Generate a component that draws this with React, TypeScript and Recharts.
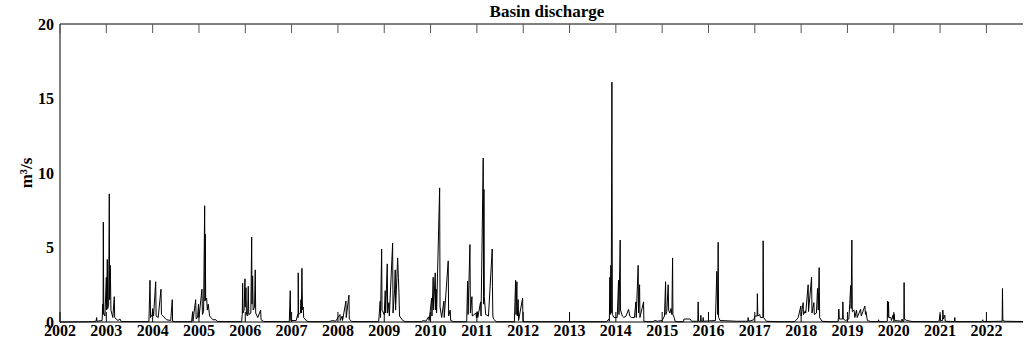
import { LineChart, Line, XAxis, YAxis, Label } from "recharts";

const FONT = '"Liberation Serif", "Times New Roman", serif';

const yearTicks = [
  2002, 2003, 2004, 2005, 2006, 2007, 2008, 2009, 2010, 2011, 2012,
  2013, 2014, 2015, 2016, 2017, 2018, 2019, 2020, 2021, 2022,
];
const flowTicks = [0, 5, 10, 15, 20];
const xDomain = [2002, 2022.79];

// [decimal year, discharge m3/s]
const s2003: [number, number][] = [
  [2002.0, 0.0], [2002.7, 0.02], [2002.78, 0.05], [2002.79, 0.3], [2002.8, 0.05],
  [2002.91, 0.1], [2002.922, 1.2], [2002.93, 0.5], [2002.935, 6.7], [2002.945, 0.6],
  [2002.97, 0.4], [2003.0, 3.0], [2003.008, 0.8], [2003.021, 4.2], [2003.03, 0.9],
  [2003.05, 1.2], [2003.064, 8.6], [2003.072, 1.5], [2003.086, 3.8], [2003.1, 0.8],
  [2003.14, 0.3], [2003.172, 1.7], [2003.18, 0.3], [2003.25, 0.1], [2003.295, 0.2],
  [2003.32, 0.03],
];
const s2004: [number, number][] = [
  [2003.92, 0.02], [2003.943, 2.8], [2003.955, 0.3], [2003.99, 0.5], [2004.001, 0.9],
  [2004.02, 0.4], [2004.066, 2.7], [2004.075, 0.4], [2004.12, 0.3], [2004.18, 2.2],
  [2004.19, 0.5], [2004.3, 0.15], [2004.39, 0.1], [2004.424, 1.5], [2004.43, 0.05],
  [2004.5, 0.02],
];
const s2005: [number, number][] = [
  [2004.84, 0.02], [2004.864, 0.7], [2004.87, 0.05], [2004.929, 1.5], [2004.94, 0.2],
  [2004.97, 0.3], [2004.99, 1.2], [2005.0, 0.3], [2005.065, 2.2], [2005.075, 0.5],
  [2005.1, 0.7], [2005.123, 7.8], [2005.13, 1.4], [2005.136, 5.9], [2005.145, 1.5],
  [2005.166, 1.6], [2005.18, 0.8], [2005.2, 1.2], [2005.23, 0.4], [2005.3, 0.15],
  [2005.367, 0.15], [2005.4, 0.03],
];
const s2006: [number, number][] = [
  [2005.92, 0.02], [2005.935, 0.5], [2005.943, 2.6], [2005.95, 0.6], [2005.975, 0.8],
  [2005.993, 2.9], [2006.0, 1.0], [2006.015, 2.3], [2006.025, 0.5], [2006.05, 0.4],
  [2006.064, 2.4], [2006.075, 0.5], [2006.12, 0.6], [2006.138, 5.7], [2006.145, 1.2],
  [2006.159, 3.1], [2006.17, 0.8], [2006.2, 1.0], [2006.215, 3.5], [2006.225, 0.6],
  [2006.27, 0.3], [2006.332, 0.8], [2006.34, 0.15], [2006.4, 0.03],
];
const s2007: [number, number][] = [
  [2006.95, 0.02], [2006.971, 2.1], [2006.98, 0.1], [2007.1, 0.1], [2007.131, 0.5],
  [2007.14, 0.3], [2007.143, 3.3], [2007.15, 0.5], [2007.19, 0.6], [2007.202, 1.5],
  [2007.21, 0.6], [2007.223, 3.6], [2007.228, 2.3], [2007.235, 0.8], [2007.251, 1.0],
  [2007.26, 0.3], [2007.33, 0.05], [2007.4, 0.02],
];
const s2008: [number, number][] = [
  [2007.8, 0.02], [2007.886, 0.1], [2007.95, 0.05], [2008.044, 0.5], [2008.05, 0.1],
  [2008.093, 0.4], [2008.1, 0.1], [2008.173, 1.4], [2008.18, 0.3], [2008.238, 1.8],
  [2008.245, 0.2], [2008.3, 0.03],
];
const s2009: [number, number][] = [
  [2008.88, 0.02], [2008.913, 1.4], [2008.92, 0.3], [2008.944, 4.9], [2008.952, 0.8],
  [2009.0, 0.5], [2009.021, 2.1], [2009.03, 0.6], [2009.065, 3.9], [2009.073, 0.6],
  [2009.101, 1.3], [2009.11, 0.4], [2009.181, 5.3], [2009.19, 0.6], [2009.224, 2.2],
  [2009.237, 3.5], [2009.245, 0.8], [2009.289, 4.3], [2009.305, 3.0], [2009.317, 2.0],
  [2009.33, 0.4], [2009.4, 0.1], [2009.45, 0.02],
];
const s2010: [number, number][] = [
  [2009.8, 0.02], [2009.842, 0.1], [2009.9, 0.05], [2009.958, 0.35], [2009.97, 0.1],
  [2010.023, 1.6], [2010.03, 0.4], [2010.057, 3.0], [2010.065, 0.8], [2010.101, 3.3],
  [2010.11, 0.8], [2010.122, 2.2], [2010.13, 0.6], [2010.196, 9.0], [2010.205, 1.0],
  [2010.24, 0.3], [2010.288, 1.4], [2010.295, 0.3], [2010.381, 4.1], [2010.39, 0.4],
  [2010.424, 0.8], [2010.435, 0.1], [2010.5, 0.02],
];
const s2011: [number, number][] = [
  [2010.78, 0.02], [2010.8, 2.75], [2010.81, 0.5], [2010.85, 5.2], [2010.86, 0.6],
  [2010.893, 1.7], [2010.9, 0.4], [2010.979, 0.6], [2010.99, 0.3], [2011.007, 0.7],
  [2011.02, 0.3], [2011.08, 1.35], [2011.09, 0.4], [2011.137, 11.0], [2011.145, 1.2],
  [2011.152, 8.9], [2011.16, 1.7], [2011.19, 0.5], [2011.25, 0.4], [2011.331, 4.9],
  [2011.336, 2.4], [2011.345, 0.4], [2011.36, 0.2], [2011.42, 0.02],
];
const s2012: [number, number][] = [
  [2011.81, 0.02], [2011.836, 2.8], [2011.845, 0.5], [2011.864, 2.7], [2011.872, 0.4],
  [2011.892, 1.5], [2011.9, 0.1], [2011.987, 1.6], [2011.995, 0.05], [2012.05, 0.02],
];
const s2014: [number, number][] = [
  [2013.8, 0.02], [2013.85, 0.2], [2013.86, 0.05], [2013.871, 3.0], [2013.88, 0.5],
  [2013.893, 3.8], [2013.9, 0.6], [2013.915, 16.1], [2013.925, 0.5], [2013.96, 0.3],
  [2014.03, 0.3], [2014.059, 2.8], [2014.068, 0.5], [2014.094, 5.5], [2014.1, 0.8],
  [2014.14, 0.4], [2014.174, 0.3], [2014.22, 0.4], [2014.275, 0.85], [2014.3, 0.4],
  [2014.34, 0.3], [2014.4, 0.3], [2014.433, 1.35], [2014.44, 0.3], [2014.482, 3.8],
  [2014.49, 0.6], [2014.513, 2.5], [2014.52, 0.3], [2014.599, 1.35], [2014.605, 0.05],
  [2014.7, 0.02],
];
const s2015: [number, number][] = [
  [2014.8, 0.02], [2014.843, 0.1], [2014.9, 0.05], [2015.0, 0.1], [2015.05, 0.4],
  [2015.074, 2.7], [2015.08, 0.5], [2015.1, 0.7], [2015.13, 2.5], [2015.14, 0.8],
  [2015.166, 0.6], [2015.19, 0.9], [2015.21, 0.5], [2015.225, 4.3], [2015.232, 0.5],
  [2015.259, 0.3], [2015.28, 0.05], [2015.35, 0.02],
];
const s2016: [number, number][] = [
  [2015.46, 0.02], [2015.47, 0.2], [2015.6, 0.2], [2015.64, 0.05], [2015.77, 0.05],
  [2015.777, 1.35], [2015.785, 0.05], [2015.83, 0.05], [2015.835, 0.45], [2015.842, 0.05],
  [2015.88, 0.05], [2015.885, 0.3], [2015.89, 0.05], [2016.15, 0.1], [2016.18, 3.4],
  [2016.2, 0.5], [2016.209, 5.35], [2016.218, 0.3], [2016.25, 0.1], [2016.6, 0.05],
];
const s2017: [number, number][] = [
  [2016.8, 0.05], [2016.85, 0.05], [2016.856, 0.3], [2016.87, 0.05], [2016.98, 0.15],
  [2017.0, 0.4], [2017.05, 0.4], [2017.055, 1.9], [2017.065, 0.4], [2017.109, 0.5],
  [2017.12, 0.3], [2017.175, 0.3], [2017.18, 5.45], [2017.19, 0.3], [2017.25, 0.05],
  [2017.5, 0.02],
];
const s2018: [number, number][] = [
  [2017.85, 0.02], [2017.886, 0.1], [2017.936, 0.3], [2017.994, 1.07], [2018.0, 0.4],
  [2018.044, 1.3], [2018.05, 0.5], [2018.09, 0.75], [2018.1, 0.6], [2018.152, 2.5],
  [2018.16, 0.7], [2018.225, 3.0], [2018.235, 0.6], [2018.275, 1.3], [2018.285, 0.5],
  [2018.33, 0.6], [2018.354, 2.25], [2018.37, 0.8], [2018.389, 3.65], [2018.4, 0.3],
  [2018.45, 0.05], [2018.6, 0.02],
];
const s2019: [number, number][] = [
  [2018.75, 0.02], [2018.8, 0.05], [2018.814, 0.87], [2018.825, 0.2], [2018.895, 0.2],
  [2018.901, 1.35], [2018.91, 0.2], [2018.96, 0.1], [2019.03, 0.2], [2019.05, 1.25],
  [2019.07, 2.45], [2019.08, 0.9], [2019.095, 5.5], [2019.105, 0.7], [2019.144, 0.8],
  [2019.16, 0.3], [2019.196, 0.8], [2019.21, 0.3], [2019.283, 0.85], [2019.3, 0.4],
  [2019.375, 1.07], [2019.39, 0.5], [2019.4, 0.7], [2019.43, 0.1], [2019.5, 0.03],
  [2019.665, 0.03], [2019.671, 0.15], [2019.68, 0.02],
];
const s2020: [number, number][] = [
  [2019.82, 0.02], [2019.86, 0.05], [2019.865, 1.4], [2019.875, 0.3], [2019.887, 1.35],
  [2019.895, 0.3], [2019.936, 0.3], [2019.95, 0.1], [2019.98, 0.45], [2019.99, 0.2],
  [2020.008, 0.55], [2020.02, 0.1], [2020.17, 0.05], [2020.18, 0.2], [2020.19, 0.05],
  [2020.218, 0.05], [2020.223, 2.65], [2020.23, 0.2], [2020.28, 0.1], [2020.4, 0.03],
];
const s2021: [number, number][] = [
  [2020.95, 0.02], [2020.98, 0.1], [2021.0, 0.5], [2021.01, 0.1], [2021.055, 0.1],
  [2021.059, 0.8], [2021.07, 0.2], [2021.102, 0.45], [2021.11, 0.05], [2021.31, 0.03],
  [2021.318, 0.3], [2021.325, 0.03],
];
const s2022: [number, number][] = [
  [2021.9, 0.02], [2021.922, 0.15], [2021.93, 0.03], [2022.34, 0.05], [2022.347, 2.25],
  [2022.355, 0.1], [2022.4, 0.05], [2022.79, 0.03],
];

const seasons = [
  s2003, s2004, s2005, s2006, s2007, s2008, s2009, s2010, s2011, s2012,
  s2014, s2015, s2016, s2017, s2018, s2019, s2020, s2021, s2022,
];
const data = seasons.flat().map(([t, q]) => ({ t, q }));

const BottomTick = (props: any) => {
  const { x, y, payload } = props;
  return (
    <g>
      <line x1={x} y1={y} x2={x} y2={y - 10} stroke="#000" strokeWidth={1} />
      <text x={x} y={y + 3} dy="0.71em" textAnchor="middle" fill="#000"
        fontFamily={FONT} fontWeight="bold" fontSize={16}>
        {payload.value}
      </text>
    </g>
  );
};

const TopTick = (props: any) => {
  const { x, y } = props;
  return <line x1={x} y1={y} x2={x} y2={y + 9} stroke="#555" strokeWidth={1} />;
};

export default function App() {
  return (
    <div style={{ position: "absolute", left: 0, top: 0, width: 1024, height: 352, background: "#fff" }}>
      <div style={{
        position: "absolute", top: 2, left: 547, transform: "translateX(-50%)",
        fontFamily: FONT, fontWeight: "bold", fontSize: 17, whiteSpace: "nowrap", color: "#000",
        lineHeight: "20px",
      }}>
        Basin discharge
      </div>
      <LineChart width={1024} height={352} data={data} margin={{ top: 23, right: 1, bottom: 0, left: 0 }}>
        <XAxis xAxisId="top" orientation="top" dataKey="t" type="number" domain={xDomain}
          allowDataOverflow ticks={yearTicks} interval={0} height={1} tickSize={0} tickMargin={0}
          tickLine={false} axisLine={{ stroke: "#000" }} tick={<TopTick />} />
        <XAxis xAxisId="bottom" dataKey="t" type="number" domain={xDomain}
          allowDataOverflow ticks={yearTicks} interval={0} height={30} tickSize={0} tickMargin={0}
          tickLine={false} axisLine={{ stroke: "#000" }} tick={<BottomTick />} />
        <YAxis type="number" domain={[0, 20]} ticks={flowTicks} width={60} tickSize={0}
          tickMargin={6} tickLine={false} axisLine={{ stroke: "#000" }} interval={0}
          tick={{ fill: "#000", fontFamily: FONT, fontWeight: "bold", fontSize: 16 }}>
          <Label content={() => (
            <text x={32} y={173} transform="rotate(-90, 32, 173)" textAnchor="middle"
              fontFamily={FONT} fontWeight="bold" fontSize={17} fill="#000">
              m³/s
            </text>
          )} />
        </YAxis>
        <Line xAxisId="bottom" type="linear" dataKey="q" stroke="#000" strokeWidth={1}
          dot={false} isAnimationActive={false} />
      </LineChart>
    </div>
  );
}
